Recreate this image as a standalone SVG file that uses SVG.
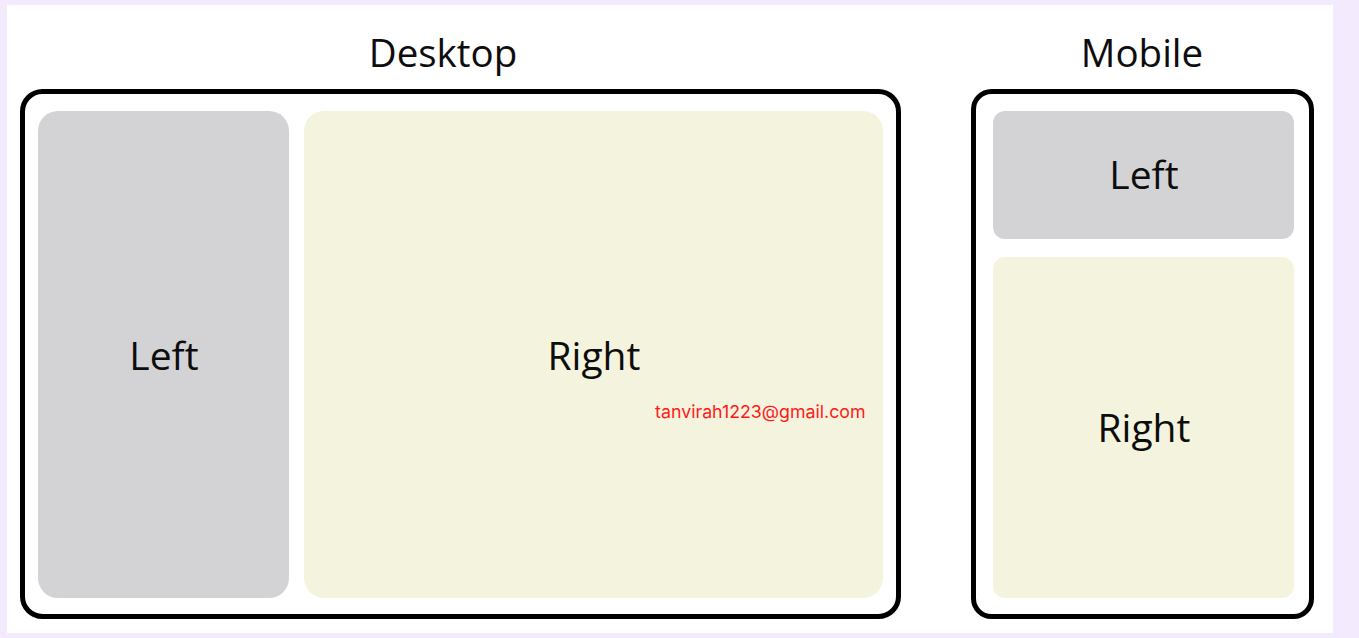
<svg xmlns="http://www.w3.org/2000/svg" width="1359" height="638" viewBox="0 0 1359 638">
<style>
.frame{fill:#ffffff;stroke:#000000;stroke-width:5}
.left{fill:#d3d3d5}
.right{fill:#f4f4de}
.title{font-family:"Open Sans","Noto Sans",sans-serif;font-size:38.5px;fill:#0d0d0d;text-anchor:middle}
.lbl{font-family:"Open Sans","Noto Sans",sans-serif;font-size:39px;fill:#0d0d0d;text-anchor:middle}
.mail{font-family:Inter,"Liberation Sans",sans-serif;font-size:17.8px;fill:#ff1a1a}
</style>
<rect x="0" y="0" width="1359" height="638" fill="#f3eafd"/>
<rect x="7" y="5" width="1326" height="628" fill="#ffffff"/>
<g id="desktop">
<text class="title" x="443" y="67">Desktop</text>
<rect class="frame" x="22.5" y="91.5" width="876" height="525" rx="20"/>
</g>
<g id="desktop-left">
<rect class="left" x="38" y="111" width="251" height="487" rx="20"/>
<text class="lbl" x="164" y="370">Left</text>
</g>
<g id="desktop-right">
<rect class="right" x="304" y="111" width="579" height="487" rx="20"/>
<text class="lbl" x="594" y="370">Right</text>
<text class="mail" x="655" y="418">tanvirah1223@gmail.com</text>
</g>
<g id="mobile">
<text class="title" x="1142" y="67">Mobile</text>
<rect class="frame" x="973.5" y="91.5" width="338" height="525" rx="18"/>
</g>
<g id="mobile-left">
<rect class="left" x="993" y="111" width="301" height="128" rx="12"/>
<text class="lbl" x="1144" y="189">Left</text>
</g>
<g id="mobile-right">
<rect class="right" x="993" y="257" width="301" height="341" rx="12"/>
<text class="lbl" x="1144" y="442">Right</text>
</g>
<g id="connectors"></g>
</svg>
